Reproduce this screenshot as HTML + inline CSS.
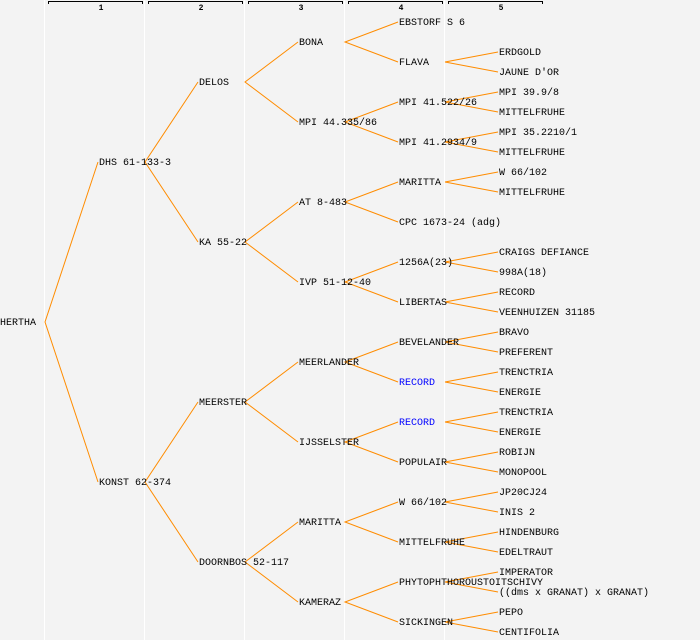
<!DOCTYPE html>
<html><head><meta charset="utf-8"><style>
html,body{margin:0;padding:0;background:#f3f3f3;}
svg{display:block}
text{font-family:"Liberation Mono",monospace;font-size:10px;fill:#000}
.n{font-size:8px;text-anchor:middle;font-weight:bold}
</style></head><body>
<svg width="700" height="640" xmlns="http://www.w3.org/2000/svg">
<rect width="700" height="640" fill="#f3f3f3"/>
<g stroke="#fff" stroke-width="1">
<line x1="44.5" y1="0" x2="44.5" y2="640"/>
<line x1="144.5" y1="0" x2="144.5" y2="640"/>
<line x1="244.5" y1="0" x2="244.5" y2="640"/>
<line x1="344.5" y1="0" x2="344.5" y2="640"/>
<line x1="444.5" y1="0" x2="444.5" y2="640"/>
</g>
<g stroke="#000" stroke-width="1" fill="none">
<path d="M48.5 4V1.5H142.5V4"/>
<path d="M148.5 4V1.5H242.5V4"/>
<path d="M248.5 4V1.5H342.5V4"/>
<path d="M348.5 4V1.5H442.5V4"/>
<path d="M448.5 4V1.5H542.5V4"/>
</g>
<text class="n" x="101" y="10">1</text>
<text class="n" x="201" y="10">2</text>
<text class="n" x="301" y="10">3</text>
<text class="n" x="401" y="10">4</text>
<text class="n" x="501" y="10">5</text>
<g stroke="#ff8c00" stroke-width="1" fill="none">
<path d="M98 162L45 322L98 482"/>
<path d="M198 82L145 162L198 242"/>
<path d="M198 402L145 482L198 562"/>
<path d="M298 42L245 82L298 122"/>
<path d="M298 202L245 242L298 282"/>
<path d="M298 362L245 402L298 442"/>
<path d="M298 522L245 562L298 602"/>
<path d="M398 22L345 42L398 62"/>
<path d="M398 102L345 122L398 142"/>
<path d="M398 182L345 202L398 222"/>
<path d="M398 262L345 282L398 302"/>
<path d="M398 342L345 362L398 382"/>
<path d="M398 422L345 442L398 462"/>
<path d="M398 502L345 522L398 542"/>
<path d="M398 582L345 602L398 622"/>
<path d="M498 52L445 62L498 72"/>
<path d="M498 92L445 102L498 112"/>
<path d="M498 132L445 142L498 152"/>
<path d="M498 172L445 182L498 192"/>
<path d="M498 252L445 262L498 272"/>
<path d="M498 292L445 302L498 312"/>
<path d="M498 332L445 342L498 352"/>
<path d="M498 372L445 382L498 392"/>
<path d="M498 412L445 422L498 432"/>
<path d="M498 452L445 462L498 472"/>
<path d="M498 492L445 502L498 512"/>
<path d="M498 532L445 542L498 552"/>
<path d="M498 572L445 582L498 592"/>
<path d="M498 612L445 622L498 632"/>
</g>
<g>
<text x="0" y="325">HERTHA</text>
<text x="99" y="165">DHS 61-133-3</text>
<text x="99" y="485">KONST 62-374</text>
<text x="199" y="85">DELOS</text>
<text x="199" y="245">KA 55-22</text>
<text x="199" y="405">MEERSTER</text>
<text x="199" y="565">DOORNBOS 52-117</text>
<text x="299" y="45">BONA</text>
<text x="299" y="125">MPI 44.335/86</text>
<text x="299" y="205">AT 8-483</text>
<text x="299" y="285">IVP 51-12-40</text>
<text x="299" y="365">MEERLANDER</text>
<text x="299" y="445">IJSSELSTER</text>
<text x="299" y="525">MARITTA</text>
<text x="299" y="605">KAMERAZ</text>
<text x="399" y="25">EBSTORF S 6</text>
<text x="399" y="65">FLAVA</text>
<text x="399" y="105">MPI 41.522/26</text>
<text x="399" y="145">MPI 41.2934/9</text>
<text x="399" y="185">MARITTA</text>
<text x="399" y="225">CPC 1673-24 (adg)</text>
<text x="399" y="265">1256A(23)</text>
<text x="399" y="305">LIBERTAS</text>
<text x="399" y="345">BEVELANDER</text>
<text x="399" y="385" style="fill:#0000ff">RECORD</text>
<text x="399" y="425" style="fill:#0000ff">RECORD</text>
<text x="399" y="465">POPULAIR</text>
<text x="399" y="505">W 66/102</text>
<text x="399" y="545">MITTELFRUHE</text>
<text x="399" y="585">PHYTOPHTHOROUSTOITSCHIVY</text>
<text x="399" y="625">SICKINGEN</text>
<text x="499" y="55">ERDGOLD</text>
<text x="499" y="75">JAUNE D'OR</text>
<text x="499" y="95">MPI 39.9/8</text>
<text x="499" y="115">MITTELFRUHE</text>
<text x="499" y="135">MPI 35.2210/1</text>
<text x="499" y="155">MITTELFRUHE</text>
<text x="499" y="175">W 66/102</text>
<text x="499" y="195">MITTELFRUHE</text>
<text x="499" y="255">CRAIGS DEFIANCE</text>
<text x="499" y="275">998A(18)</text>
<text x="499" y="295">RECORD</text>
<text x="499" y="315">VEENHUIZEN 31185</text>
<text x="499" y="335">BRAVO</text>
<text x="499" y="355">PREFERENT</text>
<text x="499" y="375">TRENCTRIA</text>
<text x="499" y="395">ENERGIE</text>
<text x="499" y="415">TRENCTRIA</text>
<text x="499" y="435">ENERGIE</text>
<text x="499" y="455">ROBIJN</text>
<text x="499" y="475">MONOPOOL</text>
<text x="499" y="495">JP20CJ24</text>
<text x="499" y="515">INIS 2</text>
<text x="499" y="535">HINDENBURG</text>
<text x="499" y="555">EDELTRAUT</text>
<text x="499" y="575">IMPERATOR</text>
<text x="499" y="595">((dms x GRANAT) x GRANAT)</text>
<text x="499" y="615">PEPO</text>
<text x="499" y="635">CENTIFOLIA</text>
</g>
</svg>
</body></html>
